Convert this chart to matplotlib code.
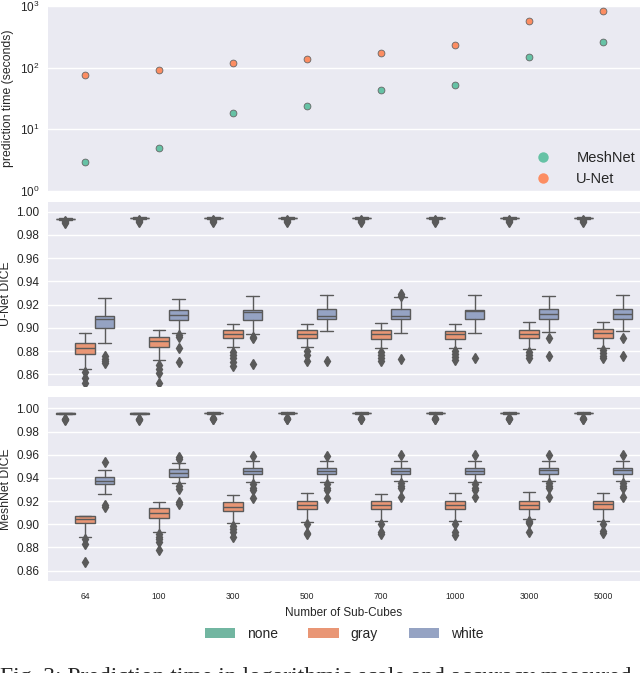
import numpy as np
import matplotlib
matplotlib.use("Agg")
import matplotlib.pyplot as plt
import seaborn as sns
from matplotlib.patches import Patch
from matplotlib.lines import Line2D

# ---------------- data ----------------
categories = ["64", "100", "300", "500", "700", "1000", "3000", "5000"]
hue_levels = ["none", "gray", "white"]

meshnet_time = [2.9, 4.9, 18.5, 23.5, 43, 53, 150, 265]
unet_time = [76, 92, 117, 139, 172, 230, 575, 830]

# box stats per category: (whislo, q1, median, q3, whishi)
unet_none_box = [(0.9932, 0.9935, 0.9938, 0.9941, 0.9944)] + [(0.9940, 0.9943, 0.9946, 0.9949, 0.9952)] * 7
unet_none_fliers = [[0.9905, 0.9912, 0.9918]] + [[0.9912, 0.9918, 0.9924]] * 7

unet_gray_box = [
    (0.8646, 0.8772, 0.8824, 0.8867, 0.8958),
    (0.8726, 0.8835, 0.8890, 0.8920, 0.8984),
    (0.8835, 0.8910, 0.8944, 0.8980, 0.9033),
    (0.8838, 0.8910, 0.8944, 0.8980, 0.9036),
    (0.8824, 0.8904, 0.8944, 0.8980, 0.9042),
    (0.8829, 0.8904, 0.8944, 0.8970, 0.9036),
    (0.8820, 0.8915, 0.8944, 0.8980, 0.9050),
    (0.8824, 0.8915, 0.8956, 0.8987, 0.9050),
]
unet_gray_fliers = [
    [0.8623, 0.8570, 0.8530],
    [0.8680, 0.8650, 0.8610, 0.8530],
    [0.8795, 0.8766, 0.8737, 0.8710, 0.8674],
    [0.8800, 0.8770, 0.8717],
    [0.8795, 0.8770, 0.8740, 0.8717],
    [0.8800, 0.8778, 0.8750, 0.8720],
    [0.8795, 0.8770, 0.8745],
    [0.8810, 0.8785, 0.8760, 0.8737],
]
unet_white_box = [
    (0.8867, 0.9001, 0.9076, 0.9105, 0.9258),
    (0.8956, 0.9065, 0.9108, 0.9150, 0.9250),
    (0.8944, 0.9065, 0.9140, 0.9150, 0.9271),
    (0.8973, 0.9073, 0.9105, 0.9162, 0.9283),
    (0.8956, 0.9073, 0.9105, 0.9162, 0.9263),
    (0.8956, 0.9073, 0.9145, 0.9150, 0.9283),
    (0.8961, 0.9073, 0.9116, 0.9162, 0.9271),
    (0.8970, 0.9073, 0.9122, 0.9162, 0.9283),
]
unet_white_fliers = [
    [0.8758, 0.8735, 0.8717, 0.8700],
    [0.8940, 0.8920, 0.8830, 0.8710],
    [0.8924, 0.8910, 0.8689],
    [0.8714],
    [0.9294, 0.9277, 0.8729],
    [0.8743],
    [0.8915, 0.8758],
    [0.8915, 0.8760],
]

meshnet_none_box = [(0.9950, 0.9953, 0.9956, 0.9959, 0.9962)] * 2 + [(0.9955, 0.9958, 0.9961, 0.9964, 0.9967)] * 6
meshnet_none_fliers = [[0.9900, 0.9906, 0.9912]] * 2 + [[0.9905, 0.9912, 0.9918]] * 6

meshnet_gray_box = [
    (0.8888, 0.9008, 0.9043, 0.9074, 0.9074),
    (0.8936, 0.9054, 0.9100, 0.9138, 0.9195),
    (0.9010, 0.9115, 0.9146, 0.9192, 0.9250),
    (0.9020, 0.9129, 0.9166, 0.9201, 0.9267),
    (0.9026, 0.9129, 0.9163, 0.9204, 0.9258),
    (0.9026, 0.9129, 0.9163, 0.9204, 0.9267),
    (0.9043, 0.9135, 0.9169, 0.9204, 0.9276),
    (0.9026, 0.9135, 0.9175, 0.9204, 0.9267),
]
meshnet_gray_fliers = [
    [0.8870, 0.8830, 0.8672],
    [0.8913, 0.8890, 0.8870, 0.8850, 0.8778],
    [0.8988, 0.8960, 0.8930, 0.8893],
    [0.9000, 0.8928, 0.8916],
    [0.9003, 0.8936, 0.8916],
    [0.9000, 0.8936, 0.8910],
    [0.9030, 0.9020, 0.9008, 0.8936],
    [0.9000, 0.8942, 0.8925],
]
meshnet_white_box = [
    (0.9258, 0.9345, 0.9376, 0.9408, 0.9471),
    (0.9353, 0.9411, 0.9440, 0.9474, 0.9526),
    (0.9362, 0.9431, 0.9462, 0.9483, 0.9543),
    (0.9362, 0.9431, 0.9462, 0.9483, 0.9543),
    (0.9373, 0.9431, 0.9462, 0.9483, 0.9543),
    (0.9362, 0.9431, 0.9462, 0.9489, 0.9549),
    (0.9373, 0.9437, 0.9468, 0.9489, 0.9543),
    (0.9373, 0.9431, 0.9468, 0.9489, 0.9543),
]
meshnet_white_fliers = [
    [0.9540, 0.9166, 0.9150],
    [0.9583, 0.9566, 0.9330, 0.9307, 0.9195, 0.9175],
    [0.9589, 0.9348, 0.9310, 0.9296, 0.9224],
    [0.9589, 0.9348, 0.9310, 0.9296, 0.9224],
    [0.9598, 0.9353, 0.9330, 0.9310, 0.9233],
    [0.9595, 0.9345, 0.9316, 0.9296, 0.9233],
    [0.9595, 0.9359, 0.9330, 0.9310, 0.9233],
    [0.9598, 0.9359, 0.9330, 0.9310, 0.9233],
]

caption = "Fig. 3: Prediction time in logarithmic scale and accuracy measured"

# ---------------- style ----------------
sns.set_style("darkgrid")
plt.rcParams["font.family"] = ["Liberation Sans", "DejaVu Sans"]
plt.rcParams["axes.facecolor"] = "#EAEAF2"
plt.rcParams["grid.color"] = "white"
plt.rcParams["grid.linewidth"] = 1.0

base = sns.color_palette("Set2", 3)
box_colors = [sns.desaturate(c, 0.75) for c in base]
line_gray = "#5a5a5a"

fig = plt.figure(figsize=(6.40, 6.73), dpi=100)
L, W = 48 / 640, 592 / 640
H = 673.0


def add_ax(top_px, bot_px):
    return fig.add_axes([L, 1 - bot_px / H, W, (bot_px - top_px) / H])


ax1 = add_ax(6, 191)
ax2 = add_ax(202, 386)
ax3 = add_ax(397, 581)

xpos = np.arange(len(categories))

# ---- top panel: prediction time ----
ax1.scatter(xpos, meshnet_time, s=24, color=base[0], edgecolor="#666666", linewidth=0.6, zorder=3)
ax1.scatter(xpos, unet_time, s=24, color=base[1], edgecolor="#666666", linewidth=0.6, zorder=3)
ax1.set_yscale("log")
ax1.set_ylim(1, 1000)
ax1.set_yticks([1, 10, 100, 1000])
ax1.minorticks_off()
ax1.set_ylabel("prediction time (seconds)", fontsize=8.8)
ax1.yaxis.set_label_coords(-0.058, 0.5)
leg_handles = [
    Line2D([], [], marker="o", linestyle="", markersize=7.5, color=base[0], markeredgewidth=0),
    Line2D([], [], marker="o", linestyle="", markersize=7.5, color=base[1], markeredgewidth=0),
]
ax1.legend(leg_handles, ["MeshNet", "U-Net"], loc="lower right", frameon=False,
           fontsize=10.5, handletextpad=1.3, borderaxespad=0.1, labelspacing=0.45,
           bbox_to_anchor=(1.004, -0.012))


def draw_boxes(ax, boxes_by_hue, fliers_by_hue):
    width = 0.262
    offsets = [-0.267, 0.0, 0.267]
    for h, (boxes, fliers) in enumerate(zip(boxes_by_hue, fliers_by_hue)):
        stats = []
        for b, f in zip(boxes, fliers):
            stats.append(dict(whislo=b[0], q1=b[1], med=b[2], q3=b[3], whishi=b[4], fliers=f))
        pos = xpos + offsets[h]
        ax.bxp(stats, positions=pos, widths=width, capwidths=width * 0.65,
               patch_artist=True, manage_ticks=False,
               boxprops=dict(facecolor=box_colors[h], edgecolor=line_gray, linewidth=1.0),
               whiskerprops=dict(color=line_gray, linewidth=1.0),
               capprops=dict(color=line_gray, linewidth=1.0),
               medianprops=dict(color=line_gray, linewidth=1.0),
               flierprops=dict(marker="d", markersize=4.6, markerfacecolor=line_gray,
                               markeredgecolor=line_gray, linestyle="none"))


draw_boxes(ax2, [unet_none_box, unet_gray_box, unet_white_box],
           [unet_none_fliers, unet_gray_fliers, unet_white_fliers])
draw_boxes(ax3, [meshnet_none_box, meshnet_gray_box, meshnet_white_box],
           [meshnet_none_fliers, meshnet_gray_fliers, meshnet_white_fliers])

dice_ticks = [0.86, 0.88, 0.90, 0.92, 0.94, 0.96, 0.98, 1.00]
ax2.set_ylim(0.850, 1.0083)
ax3.set_ylim(0.851, 1.0098)
ax2.set_ylabel("U-Net DICE", fontsize=8.8)
ax3.set_ylabel("MeshNet DICE", fontsize=8.8)
for ax in (ax2, ax3):
    ax.set_yticks(dice_ticks)
    ax.set_yticklabels([f"{t:.2f}" for t in dice_ticks])
    ax.yaxis.set_label_coords(-0.060, 0.5)

for ax in (ax1, ax2, ax3):
    ax.set_xlim(-0.5, len(categories) - 0.5)
    ax.set_xticks(xpos)
    ax.tick_params(axis="y", labelsize=8.5, length=0, pad=6)
    ax.tick_params(axis="x", length=0)
    ax.grid(axis="x", visible=False)
    ax.grid(axis="y", color="white", linewidth=1.0)
    for sp in ax.spines.values():
        sp.set_visible(False)

ax1.set_xticklabels([])
ax2.set_xticklabels([])
ax3.set_xticklabels(categories, fontsize=6.2)
ax3.tick_params(axis="x", pad=8)
ax3.set_xlabel("Number of Sub-Cubes", fontsize=8.5, labelpad=4)

fig.legend([Patch(facecolor=c, edgecolor="none") for c in box_colors], hue_levels,
           loc="center", bbox_to_anchor=(344 / 640, 1 - 634 / H), ncol=3, frameon=False,
           fontsize=10, handlelength=2.2, handleheight=0.7, handletextpad=0.85, columnspacing=2.2)

fig.text(0.0, 1 - 667 / H, caption, family="Liberation Serif", fontsize=17,
         ha="left", va="top")

fig.savefig("out.png", dpi=100)
